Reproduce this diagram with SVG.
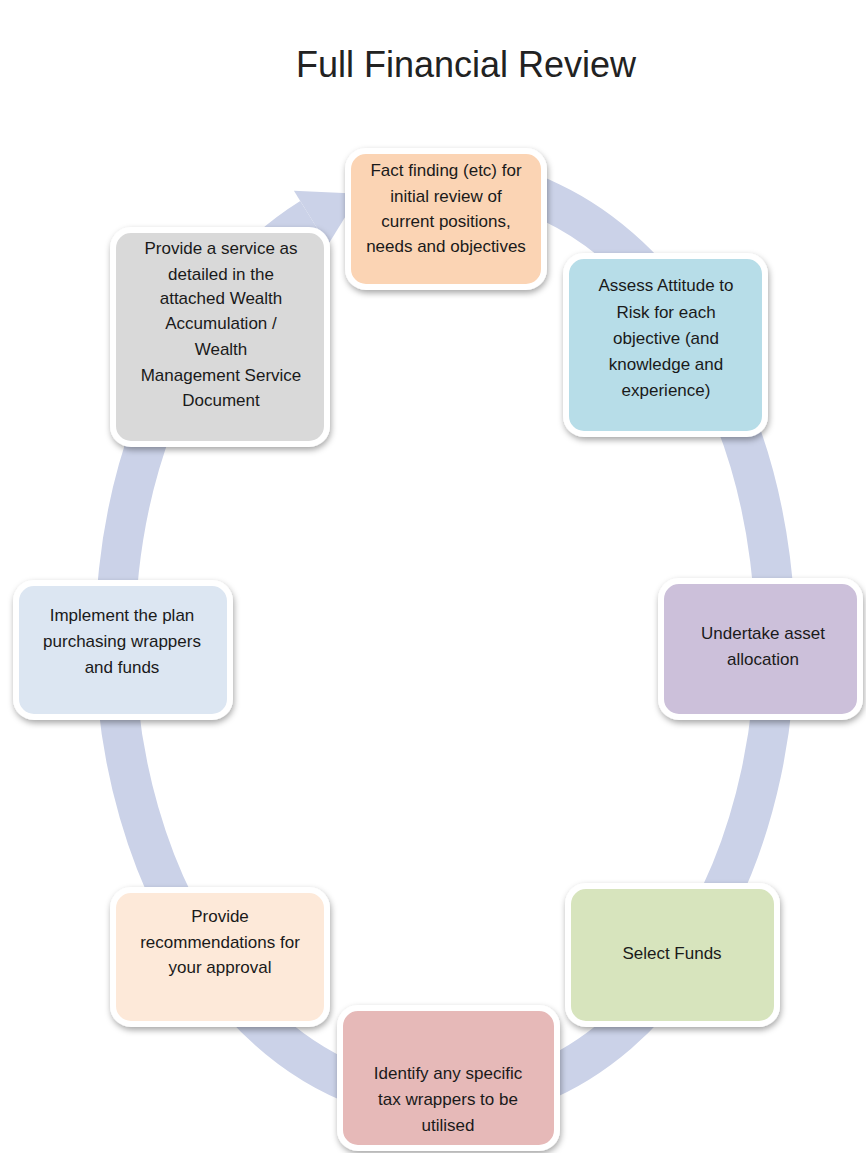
<svg xmlns="http://www.w3.org/2000/svg" width="866" height="1153" viewBox="0 0 866 1153">
<style>
.bg{fill:#ffffff}
.title{font-family:"Liberation Sans",Arial,sans-serif;font-size:36px;fill:#222222;text-anchor:middle}
.box{stroke:#ffffff;stroke-width:6;filter:url(#sh)}
.t{font-family:"Liberation Sans",Arial,sans-serif;font-size:17px;fill:#1a1a1a;text-anchor:middle}
.ring{fill:none;stroke:#cbd2e8;stroke-width:40}
.head{fill:#cbd2e8}
</style>
<defs>
<filter id="sh" x="-10%" y="-10%" width="125%" height="125%">
<feDropShadow dx="1" dy="3" stdDeviation="3" flood-color="#000000" flood-opacity="0.35"/>
</filter>
</defs>
<rect class="bg" x="0" y="0" width="866" height="1153"/>
<text class="title" x="466" y="77">Full Financial Review</text>
<g id="connectors">
<path class="ring" d="M399.1,182.5 A330,462 0 1 1 310.8,218"/>
<polygon class="head" points="293.9,190.8 359.6,193.7 327.7,245.2"/>
</g>
<g id="n1">
<rect class="box" x="348" y="151" width="196" height="136" rx="18" fill="#fbd4b4"/>
<text class="t" x="446" y="176">Fact finding (etc) for</text>
<text class="t" x="446" y="202">initial review of</text>
<text class="t" x="446" y="227">current positions,</text>
<text class="t" x="446" y="252">needs and objectives</text>
</g>
<g id="n2">
<rect class="box" x="566" y="256" width="199" height="178" rx="18" fill="#b7dde8"/>
<text class="t" x="666" y="291">Assess Attitude to</text>
<text class="t" x="666" y="318">Risk for each</text>
<text class="t" x="666" y="344">objective (and</text>
<text class="t" x="666" y="370">knowledge and</text>
<text class="t" x="666" y="396">experience)</text>
</g>
<g id="n3">
<rect class="box" x="661" y="581" width="199" height="136" rx="18" fill="#ccc0da"/>
<text class="t" x="763" y="639">Undertake asset</text>
<text class="t" x="763" y="665">allocation</text>
</g>
<g id="n4">
<rect class="box" x="568" y="886" width="209" height="138" rx="18" fill="#d7e4bd"/>
<text class="t" x="672" y="959">Select Funds</text>
</g>
<g id="n5">
<rect class="box" x="340" y="1008" width="217" height="140" rx="18" fill="#e6b9b8"/>
<text class="t" x="448" y="1079">Identify any specific</text>
<text class="t" x="448" y="1105">tax wrappers to be</text>
<text class="t" x="448" y="1131">utilised</text>
</g>
<g id="n6">
<rect class="box" x="113" y="890" width="214" height="134" rx="18" fill="#fde9d9"/>
<text class="t" x="220" y="922">Provide</text>
<text class="t" x="220" y="948">recommendations for</text>
<text class="t" x="220" y="973">your approval</text>
</g>
<g id="n7">
<rect class="box" x="16" y="583" width="214" height="134" rx="18" fill="#dce6f2"/>
<text class="t" x="122" y="621">Implement the plan</text>
<text class="t" x="122" y="647">purchasing wrappers</text>
<text class="t" x="122" y="673">and funds</text>
</g>
<g id="n8">
<rect class="box" x="113" y="230" width="214" height="214" rx="18" fill="#d9d9d9"/>
<text class="t" x="221" y="254">Provide a service as</text>
<text class="t" x="221" y="280">detailed in the</text>
<text class="t" x="221" y="304">attached Wealth</text>
<text class="t" x="221" y="329">Accumulation /</text>
<text class="t" x="221" y="355">Wealth</text>
<text class="t" x="221" y="381">Management Service</text>
<text class="t" x="221" y="406">Document</text>
</g>
</svg>
